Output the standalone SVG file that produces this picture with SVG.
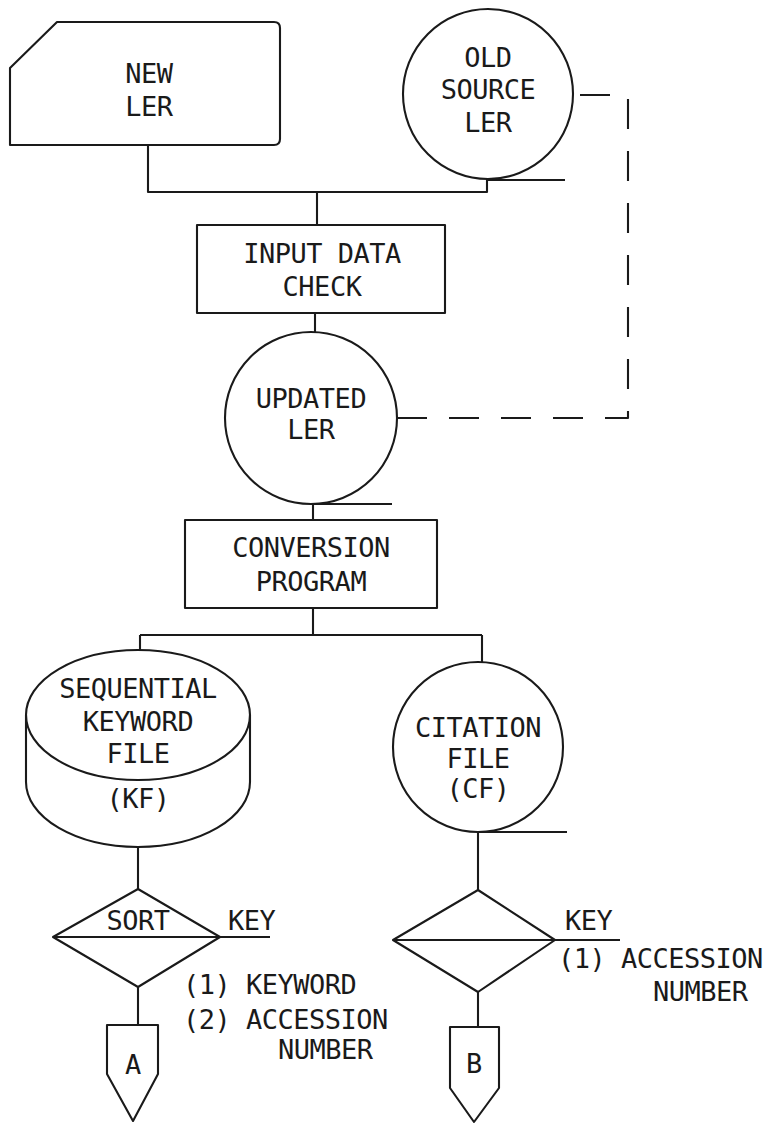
<svg xmlns="http://www.w3.org/2000/svg" width="770" height="1124" viewBox="0 0 770 1124">
<style>
.s{fill:none;stroke:#1a1a1a;stroke-width:2.1;stroke-linejoin:round}
.t{font-family:"DejaVu Sans Mono","Liberation Mono",monospace;font-size:27px;letter-spacing:-0.5px;fill:#1a1a1a;text-anchor:middle}
.l{text-anchor:start}
.d{stroke-dasharray:30 22}
</style>
<rect width="770" height="1124" fill="#ffffff"/>
<g id="connectors">
<path class="s" d="M148 145 V192 H487 V179"/>
<path class="s" d="M488 180 H565"/>
<path class="s" d="M317 192 V225"/>
<path class="s" d="M315 313 V332"/>
<path class="s d" d="M397 418 H628 V95 H573"/>
<path class="s" d="M311 504 H392"/>
<path class="s" d="M313 504 V520"/>
<path class="s" d="M313 608 V635"/>
<path class="s" d="M140 635 H482"/>
<path class="s" d="M140 635 V650"/>
<path class="s" d="M482 635 V662"/>
<path class="s" d="M478 832 H567"/>
<path class="s" d="M138 847 V889"/>
<path class="s" d="M478 832 V890"/>
<path class="s" d="M138 987 V1025"/>
<path class="s" d="M478 992 V1027"/>
<path class="s" d="M53 937 H270"/>
<path class="s" d="M393 940 H620"/>
</g>
<g id="new-ler">
<path class="s" d="M10 68 L57 22 H274 Q280 22 280 28 V139 Q280 145 274 145 H10 Z"/>
<text class="t" x="149" y="83">NEW</text>
<text class="t" x="149" y="116">LER</text>
</g>
<g id="old-source-ler">
<circle class="s" cx="488" cy="94" r="85"/>
<text class="t" x="488" y="67">OLD</text>
<text class="t" x="488" y="99">SOURCE</text>
<text class="t" x="488" y="132">LER</text>
</g>
<g id="input-data-check">
<rect class="s" x="197" y="225" width="248" height="88"/>
<text class="t" x="322" y="263">INPUT DATA</text>
<text class="t" x="322" y="296">CHECK</text>
</g>
<g id="updated-ler">
<circle class="s" cx="311" cy="418" r="86"/>
<text class="t" x="311" y="408">UPDATED</text>
<text class="t" x="311" y="439">LER</text>
</g>
<g id="conversion-program">
<rect class="s" x="185" y="520" width="252" height="88"/>
<text class="t" x="311" y="557">CONVERSION</text>
<text class="t" x="311" y="591">PROGRAM</text>
</g>
<g id="keyword-file">
<ellipse class="s" cx="138" cy="715" rx="112" ry="65"/>
<path class="s" d="M26 715 V782 A112 65 0 0 0 250 782 V715"/>
<text class="t" x="138" y="698">SEQUENTIAL</text>
<text class="t" x="138" y="731">KEYWORD</text>
<text class="t" x="138" y="763">FILE</text>
<text class="t" x="138" y="808">(KF)</text>
</g>
<g id="citation-file">
<circle class="s" cx="478" cy="747" r="85"/>
<text class="t" x="478" y="737">CITATION</text>
<text class="t" x="478" y="768">FILE</text>
<text class="t" x="478" y="798">(CF)</text>
</g>
<g id="sort-kf">
<polygon class="s" points="138,889 220,937 138,987 53,937"/>
<text class="t" x="138" y="930">SORT</text>
<text class="t l" x="228" y="930">KEY</text>
<text class="t l" x="183" y="994">(1) KEYWORD</text>
<text class="t l" x="183" y="1029">(2) ACCESSION</text>
<text class="t l" x="278" y="1059">NUMBER</text>
</g>
<g id="sort-cf">
<polygon class="s" points="478,890 555,940 478,992 393,940"/>
<text class="t l" x="565" y="930">KEY</text>
<text class="t l" x="558" y="968">(1) ACCESSION</text>
<text class="t l" x="653" y="1001">NUMBER</text>
</g>
<g id="connector-a">
<path class="s" d="M107 1025 H158 V1074 L133 1121 L107 1074 Z"/>
<text class="t" x="133" y="1074">A</text>
</g>
<g id="connector-b">
<path class="s" d="M450 1027 H499 V1088 L474 1122 L450 1088 Z"/>
<text class="t" x="474" y="1073">B</text>
</g>
</svg>
